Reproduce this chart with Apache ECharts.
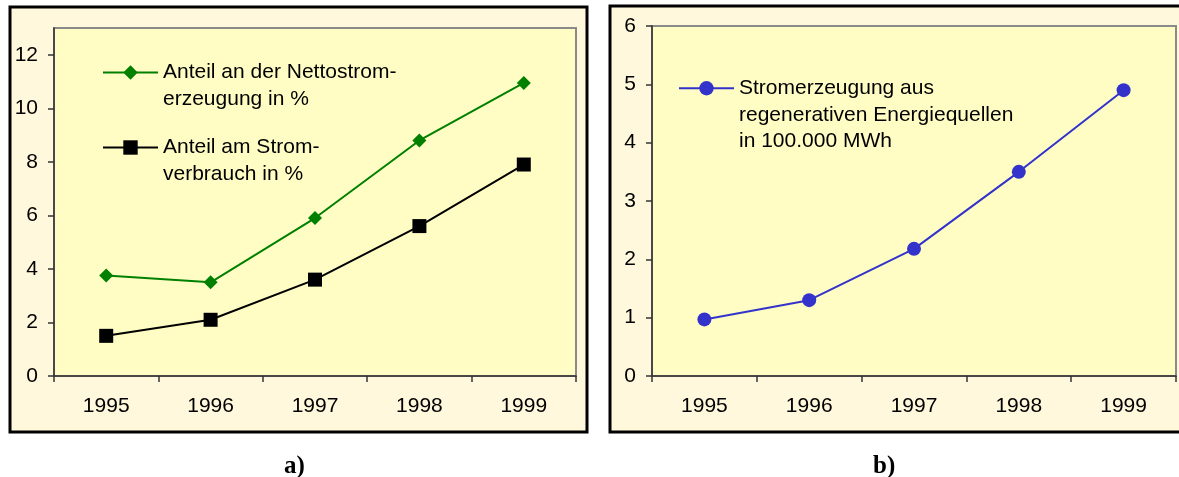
<!DOCTYPE html>
<html>
<head>
<meta charset="utf-8">
<script src="https://cdn.jsdelivr.net/npm/echarts@6/dist/echarts.min.js"></script>
<style>
  html, body { margin: 0; padding: 0; background: #fff; }
  #chart { width: 1179px; height: 477px; }
</style>
</head>
<body>
<div id="chart"></div>
<script>
(function () {
  'use strict';

  // Data
  var years = ['1995', '1996', '1997', '1998', '1999'];
  var nettoAnteil = [3.75, 3.5, 5.9, 8.8, 10.95];     // Anteil an der Nettostromerzeugung in %
  var verbrauchAnteil = [1.5, 2.1, 3.6, 5.6, 7.9];    // Anteil am Stromverbrauch in %
  var regenerativ = [0.97, 1.3, 2.18, 3.5, 4.9];      // in 100.000 MWh
  var yTicksA = [0, 2, 4, 6, 8, 10, 12];
  var yTicksB = [0, 1, 2, 3, 4, 5, 6];

  var nameNetto = 'Anteil an der Nettostrom-\nerzeugung in %';
  var nameVerbrauch = 'Anteil am Strom-\nverbrauch in %';
  var nameRegen = 'Stromerzeugung aus\nregenerativen Energiequellen\nin 100.000 MWh';

  var FONT = '"Liberation Sans", Arial, sans-serif';
  var outerBg = '#FFF8DC';
  var plotBg = '#FFFDC4';

  function xAxis(gridIndex) {
    return {
      type: 'category',
      gridIndex: gridIndex,
      data: years,
      boundaryGap: true,
      axisLine: { lineStyle: { color: '#333', width: 1.5 } },
      axisTick: { show: true, length: 6, inside: false, interval: 0, lineStyle: { color: '#333', width: 1.5 } },
      axisLabel: { color: '#000', fontFamily: FONT, fontSize: 21, margin: 20, interval: 0 },
      splitLine: { show: false }
    };
  }

  function yAxis(gridIndex, max, interval, ticks) {
    return {
      type: 'value',
      gridIndex: gridIndex,
      min: 0,
      max: max,
      interval: interval,
      axisLine: { show: true, lineStyle: { color: '#333', width: 1.5 } },
      axisTick: { show: true, length: 6, customValues: ticks, lineStyle: { color: '#333', width: 1.5 } },
      axisLabel: { color: '#000', fontFamily: FONT, fontSize: 21, margin: 16, customValues: ticks },
      splitLine: { show: false }
    };
  }

  // multi-line legend: blank lines on top so the first text line sits on the icon
  function legend(name, left, top, lh) {
    var lines = name.split('\n').length;
    var pad = new Array(lines).join('\n');
    return {
      data: [name], left: left, top: top, padding: 0,
      itemWidth: 55, itemHeight: 18, selectedMode: false,
      formatter: function (n) { return pad + n; },
      textStyle: { color: '#000', fontFamily: FONT, fontSize: 21, lineHeight: lh }
    };
  }

  var chart = echarts.init(document.getElementById('chart'));
  chart.setOption({
    animation: false,
    backgroundColor: '#fff',
    graphic: [
      { type: 'rect', z: -10, shape: { x: 10, y: 7, width: 577, height: 425 },
        style: { fill: outerBg, stroke: '#000', lineWidth: 3 } },
      { type: 'rect', z: -10, shape: { x: 610, y: 6, width: 585, height: 426 },
        style: { fill: outerBg, stroke: '#000', lineWidth: 3 } },
      { type: 'text', left: 284, top: 454,
        style: { text: 'a)', font: 'bold 25px "Liberation Serif", "Times New Roman", serif', fill: '#000' } },
      { type: 'text', left: 873, top: 454,
        style: { text: 'b)', font: 'bold 25px "Liberation Serif", "Times New Roman", serif', fill: '#000' } }
    ],
    grid: [
      { left: 54, top: 28, width: 522, height: 348, show: true,
        backgroundColor: plotBg, borderColor: '#8a8a8a', borderWidth: 2 },
      { left: 652, top: 26, width: 524, height: 350, show: true,
        backgroundColor: plotBg, borderColor: '#8a8a8a', borderWidth: 2 }
    ],
    xAxis: [xAxis(0), xAxis(1)],
    yAxis: [yAxis(0, 13, 2, yTicksA), yAxis(1, 6, 1, yTicksB)],
    legend: [
      legend(nameNetto, 102, 32, 27),
      legend(nameVerbrauch, 102, 107, 27),
      legend(nameRegen, 678, 22, 26.5)
    ],
    series: [
      {
        name: nameNetto,
        type: 'line',
        xAxisIndex: 0, yAxisIndex: 0,
        data: nettoAnteil,
        symbol: 'diamond', symbolSize: 14,
        lineStyle: { color: '#008000', width: 2 },
        itemStyle: { color: '#008000' }
      },
      {
        name: nameVerbrauch,
        type: 'line',
        xAxisIndex: 0, yAxisIndex: 0,
        data: verbrauchAnteil,
        symbol: 'rect', symbolSize: 14,
        lineStyle: { color: '#000', width: 2 },
        itemStyle: { color: '#000' }
      },
      {
        name: nameRegen,
        type: 'line',
        xAxisIndex: 1, yAxisIndex: 1,
        data: regenerativ,
        symbol: 'circle', symbolSize: 14,
        lineStyle: { color: '#3333CC', width: 2 },
        itemStyle: { color: '#3333CC' }
      }
    ]
  });
})();
</script>
</body>
</html>
